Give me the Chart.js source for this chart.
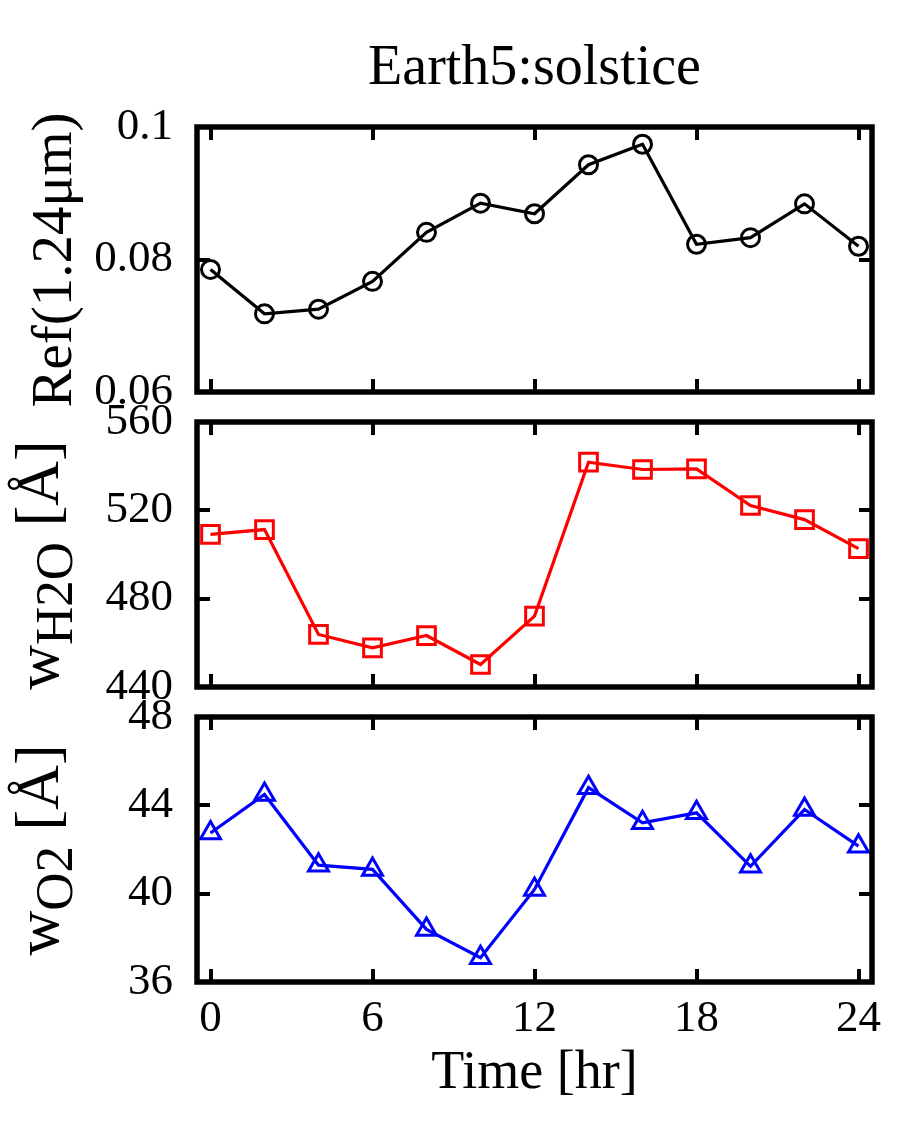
<!DOCTYPE html>
<html><head><meta charset="utf-8">
<script src="https://cdn.jsdelivr.net/npm/chart.js@4.4.0/dist/chart.umd.min.js"></script>
<style>
html,body{margin:0;padding:0;background:#fff;}
#wrap{position:relative;width:900px;height:1148px;background:#fff;}
canvas{position:absolute;left:0;top:0;}
</style>
</head><body>
<div id="wrap">
<canvas id="c1" width="900" height="1148"></canvas>
<canvas id="c2" width="900" height="1148"></canvas>
<canvas id="c3" width="900" height="1148"></canvas>
</div>
<script>
// ---- data ----
const hours = [0, 2, 4, 6, 8, 10, 12, 14, 16, 18, 20, 22, 24];
const ref124 = [0.0785, 0.0718, 0.0725, 0.0767, 0.0841, 0.0885, 0.0869, 0.0943, 0.0974, 0.0823, 0.0833, 0.0884, 0.0820];
const wH2O = [509.1, 511.3, 463.8, 457.7, 463.3, 450.2, 472.1, 541.8, 538.5, 538.8, 522.2, 515.8, 502.7];
const wO2 = [42.75, 44.49, 41.29, 41.10, 38.38, 37.10, 40.19, 44.80, 43.21, 43.66, 41.24, 43.81, 42.15];

const xTickValues = [0, 6, 12, 18, 24];
const xTickLabels = ['0', '6', '12', '18', '24'];
const refTickValues = [0.06, 0.08, 0.1];
const refTickLabels = ['0.06', '0.08', '0.1'];
const h2oTickValues = [440, 480, 520, 560];
const h2oTickLabels = ['440', '480', '520', '560'];
const o2TickValues = [36, 40, 44, 48];
const o2TickLabels = ['36', '40', '44', '48'];

const titleText = 'Earth5:solstice';
const xTitleText = 'Time [hr]';
const refTitle = [{t: 'Ref(1.24\u03bcm)', sub: false}];
const h2oTitle = [{t: 'w', sub: false}, {t: 'H2O', sub: true}, {t: ' [\u00c5]', sub: false}];
const o2Title = [{t: 'w', sub: false}, {t: 'O2', sub: true}, {t: ' [\u00c5]', sub: false}];

// ---- layout ----
const FONT = "'Liberation Serif', 'Times New Roman', serif";
const W = 900, H = 1148;
const PLOT_LEFT = 197, PLOT_RIGHT = 872;

function framePlugin(yVals) {
  return {
    id: 'frame',
    afterDatasetsDraw(chart) {
      const {ctx, chartArea: a} = chart;
      const xs = chart.scales.x, ys = chart.scales.y;
      ctx.save();
      ctx.strokeStyle = '#000';
      ctx.lineWidth = 4;
      ctx.lineCap = 'butt';
      const tl = 13;
      ctx.beginPath();
      xTickValues.forEach(v => {
        const px = Math.round(xs.getPixelForValue(v));
        ctx.moveTo(px, a.bottom); ctx.lineTo(px, a.bottom - tl);
        ctx.moveTo(px, a.top); ctx.lineTo(px, a.top + tl);
      });
      yVals.forEach(v => {
        const py = Math.round(ys.getPixelForValue(v));
        ctx.moveTo(a.left, py); ctx.lineTo(a.left + tl, py);
        ctx.moveTo(a.right, py); ctx.lineTo(a.right - tl, py);
      });
      ctx.stroke();
      ctx.lineWidth = 5.5;
      ctx.strokeRect(a.left, a.top, a.right - a.left, a.bottom - a.top);
      ctx.restore();
    }
  };
}

function textPlugin(opts) {
  return {
    id: 'texts',
    afterDraw(chart) {
      const {ctx, chartArea: a} = chart;
      ctx.save();
      ctx.fillStyle = '#000';
      if (opts.title) {
        ctx.font = '56px ' + FONT;
        ctx.textAlign = 'center';
        ctx.textBaseline = 'alphabetic';
        ctx.fillText(opts.title, (a.left + a.right) / 2, 84);
      }
      if (opts.xTitle) {
        ctx.font = '54px ' + FONT;
        ctx.textAlign = 'center';
        ctx.textBaseline = 'alphabetic';
        ctx.fillText(opts.xTitle, (a.left + a.right) / 2, 1088);
      }
      if (opts.yTitle) {
        const segs = opts.yTitle;
        const mainF = opts.ySize + 'px ' + FONT, subF = Math.round(opts.ySize * 0.85) + 'px ' + FONT;
        let total = 0;
        const widths = segs.map(s => { ctx.font = s.sub ? subF : mainF; const w = ctx.measureText(s.t).width; total += w; return w; });
        ctx.translate(opts.yBase, opts.yCenter);
        ctx.rotate(-Math.PI / 2);
        ctx.textAlign = 'left';
        ctx.textBaseline = 'alphabetic';
        let cur = -total / 2;
        segs.forEach((s, i) => {
          ctx.font = s.sub ? subF : mainF;
          ctx.fillText(s.t, cur, s.sub ? 14 : 0);
          cur += widths[i];
        });
      }
      ctx.restore();
    }
  };
}

function makePanel(id, values, color, style, radius, yMin, yMax, yVals, yLabels, top, bottom, showX, texts) {
  const xH = showX ? 70 : 0;
  return new Chart(document.getElementById(id), {
    type: 'line',
    data: {
      datasets: [{
        data: hours.map((h, i) => ({x: h, y: values[i]})),
        borderColor: color,
        borderWidth: 3.2,
        pointStyle: style,
        pointRadius: radius,
        pointBorderWidth: 3,
        pointBorderColor: color,
        pointBackgroundColor: 'rgba(0,0,0,0)',
        tension: 0,
        fill: false,
        clip: 30
      }]
    },
    options: {
      responsive: false,
      animation: false,
      devicePixelRatio: 1,
      events: [],
      layout: {padding: {left: 0, right: W - PLOT_RIGHT, top: top, bottom: H - bottom - xH}},
      plugins: {legend: {display: false}, tooltip: {enabled: false}, title: {display: false}},
      scales: {
        x: {
          type: 'linear', min: -0.5, max: 24.5,
          afterBuildTicks: s => { s.ticks = xTickValues.map(v => ({value: v})); },
          ticks: {
            display: showX, autoSkip: false, maxRotation: 0, padding: 10,
            color: '#000', font: {family: FONT, size: 45},
            callback: v => xTickLabels[xTickValues.indexOf(v)]
          },
          grid: {display: false, drawTicks: false},
          border: {display: false},
          afterFit: s => { s.height = xH; }
        },
        y: {
          type: 'linear', min: yMin, max: yMax,
          afterBuildTicks: s => { s.ticks = yVals.map(v => ({value: v})); },
          ticks: {
            autoSkip: false, padding: 24,
            color: '#000', font: {family: FONT, size: 45},
            callback: v => yLabels[yVals.indexOf(v)]
          },
          grid: {display: false, drawTicks: false},
          border: {display: false},
          afterFit: s => { s.width = PLOT_LEFT; }
        }
      }
    },
    plugins: [framePlugin(yVals), textPlugin(texts)]
  });
}

makePanel('c1', ref124, '#000000', 'circle', 9, 0.06, 0.1, refTickValues, refTickLabels, 127, 392, false,
  {title: titleText, yTitle: refTitle, ySize: 57, yBase: 71, yCenter: 260});
makePanel('c2', wH2O, '#ff0000', 'rect', 12.5, 440, 560, h2oTickValues, h2oTickLabels, 422, 687, false,
  {yTitle: h2oTitle, ySize: 62, yBase: 58, yCenter: 565});
makePanel('c3', wO2, '#0000ff', 'triangle', 11.5, 36, 48, o2TickValues, o2TickLabels, 717, 982, true,
  {xTitle: xTitleText, yTitle: o2Title, ySize: 62, yBase: 58, yCenter: 850});
</script>
</body></html>
